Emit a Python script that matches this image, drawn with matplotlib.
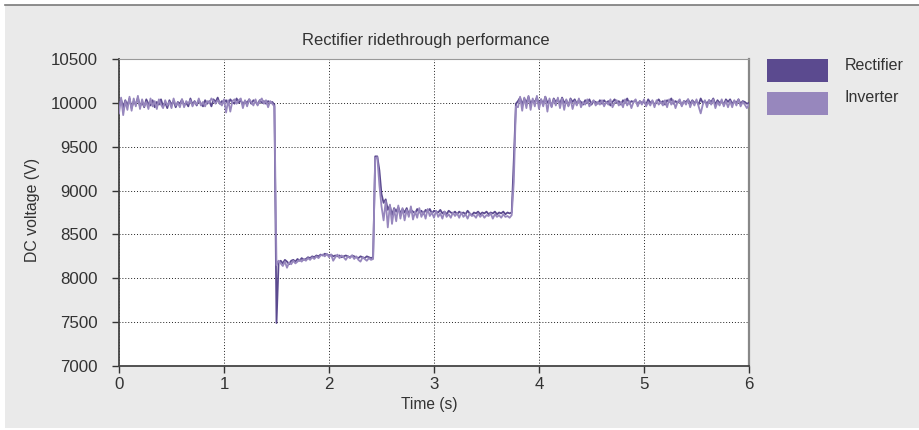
import numpy as np
import matplotlib.pyplot as plt
from matplotlib.patches import Rectangle
from matplotlib.lines import Line2D

plt.rcParams['font.family'] = ['Liberation Sans', 'DejaVu Sans']

# sample clock: 0.02 s steps from 0 to 6 s
time_s = np.linspace(0.0, 6.0, 301)

# ---- Rectifier DC voltage (V) ----
rect_pre = [9960, 10040, 9950, 10030, 9970, 10050, 9940, 10020, 9980, 10060,
            9960, 10010, 9950, 10040, 9990, 9970, 10030, 9950, 10010, 9980,
            10040, 9960, 10000, 9940, 10030, 9980, 10020, 9950, 10010, 9990,
            10040, 9970, 10000, 9960, 10050, 9980, 10020, 9970, 10030, 9990,
            9960, 10030, 9990, 10020, 9960, 10040, 10010, 10060, 9990, 10020,
            10000, 10030, 9980, 10040, 10010, 9990, 10050, 10000, 10030, 9980,
            10020, 10000, 10040, 9990, 10030, 10010, 9980, 10030, 10000, 10020,
            9990, 10020, 10000, 10010, 9980]
rect_fault = [7490, 8180,
              8200, 8170, 8210, 8190, 8160, 8200, 8210, 8190, 8220, 8200,
              8230, 8210, 8220, 8240, 8230, 8250, 8240, 8260, 8250, 8270,
              8260, 8280, 8270, 8260, 8270, 8250, 8260, 8250, 8260, 8240,
              8250, 8260, 8250, 8240, 8260, 8250, 8240, 8230, 8250, 8240,
              8230, 8250, 8240, 8230, 8240]
rect_step = [9390, 9390, 9230, 8960, 8860, 8900, 8780, 8830, 8720, 8800,
             8760, 8810, 8740, 8790, 8750, 8800, 8730, 8780, 8760, 8740,
             8790, 8750, 8770, 8730, 8780, 8760, 8790, 8740, 8770, 8760,
             8750, 8780, 8740, 8760, 8730, 8770, 8750, 8740, 8760, 8730,
             8760, 8740, 8750, 8730, 8770, 8740, 8720, 8750, 8740, 8760,
             8730, 8750, 8740, 8760, 8730, 8750, 8740, 8760, 8730, 8750,
             8740, 8760, 8730, 8750, 8740, 8750]
rect_post = [9350, 9990,
             10020, 10060, 9980, 10050, 10000, 10070, 9990, 10030, 10010, 10060,
             9980, 10040, 9980, 10070, 10000, 10030, 9960, 10050, 10010, 10040,
             9990, 10060, 10000, 10030, 9970, 10050, 10010, 10040, 9990, 10030,
             10010, 9980, 10030, 10000, 10040, 9980, 10020, 10010, 9990, 10030,
             9990, 10030, 10000, 10020, 9970, 10010, 10040, 10000, 10020, 9980,
             10030, 10000, 10050, 9990, 10020, 10010, 10030, 9980, 10020, 10000,
             10010, 9980, 10040, 10000, 10020, 9980, 10010, 10040, 10000, 10020,
             9980, 10030, 10010, 10050, 9990, 10020, 10000, 10030, 9970, 10020,
             10010, 10040, 9990, 10030, 10000, 10020, 9980, 10050, 10000, 10020,
             9990, 10030, 10010, 10050, 9980, 10030, 10000, 10020, 9980, 10040,
             10010, 10040, 9990, 10020, 10000, 10040, 9990, 10020, 10010, 9990, 10000]

# ---- Inverter DC voltage (V) ----
inv_pre = [9880, 10060, 9860, 10020, 9920, 10070, 9910, 10050, 9960, 10080,
           9930, 10040, 9960, 10010, 9930, 10050, 9960, 10020, 9930, 10040,
           9980, 9940, 10030, 9970, 10010, 9940, 10050, 9970, 10000, 9950,
           10040, 9950, 10020, 9990, 10030, 9960, 10010, 9980, 10050, 9970,
           10010, 9960, 10020, 10000, 10050, 10020, 9990, 10030, 10000, 9970,
           10040, 9890, 10030, 9900, 10020, 10040, 9990, 10030, 10050, 9940,
           10030, 9960, 10040, 10010, 9970, 10040, 9970, 10020, 10050, 9990,
           10030, 9950, 10020, 9990, 9960]
inv_fault = [8150, 8200,
             8170, 8140, 8190, 8120, 8180, 8160, 8200, 8170, 8190, 8210,
             8190, 8220, 8200, 8230, 8210, 8240, 8220, 8250, 8230, 8260,
             8270, 8250, 8280, 8240, 8270, 8200, 8240, 8270, 8230, 8260,
             8240, 8210, 8250, 8230, 8260, 8220, 8250, 8210, 8190, 8240,
             8220, 8200, 8230, 8210, 8220]
inv_step = [9370, 9380, 9060, 8820, 8660, 8880, 8580, 8840, 8620, 8790,
            8650, 8830, 8680, 8800, 8660, 8780, 8700, 8820, 8670, 8760,
            8690, 8800, 8700, 8760, 8680, 8790, 8710, 8750, 8690, 8770,
            8700, 8740, 8680, 8760, 8700, 8730, 8690, 8750, 8710, 8740,
            8690, 8750, 8700, 8730, 8680, 8740, 8710, 8720, 8690, 8740,
            8700, 8730, 8690, 8720, 8710, 8740, 8680, 8730, 8700, 8720,
            8690, 8730, 8700, 8710, 8690, 8720]
inv_post = [9100, 9960,
            9950, 10070, 9910, 10060, 9940, 10080, 9920, 10050, 9960, 10080,
            9930, 10040, 9960, 10070, 9900, 10050, 9950, 10040, 9970, 10060,
            9940, 10050, 9920, 10040, 9960, 10040, 9930, 10020, 9970, 10050,
            9950, 10010, 9980, 10040, 9960, 10000, 10030, 9970, 10010, 9980,
            10030, 9960, 10010, 9980, 10040, 9950, 10000, 10030, 9970, 10010,
            9950, 10040, 9970, 10020, 9940, 10010, 10040, 9960, 10020, 9980,
            10040, 9960, 10010, 9970, 10030, 9950, 10030, 9980, 10010, 9970,
            10030, 9950, 10040, 9980, 10030, 9940, 10010, 10040, 9960, 10020,
            9980, 10040, 9950, 10020, 9970, 10040, 9960, 9880, 9980, 10030,
            9950, 10030, 9980, 10040, 9940, 10010, 9970, 10040, 9960, 10020,
            9950, 10020, 9950, 10030, 9970, 10040, 9960, 10010, 9980, 9940, 9980]

rectifier = np.array(rect_pre + rect_fault + rect_step + rect_post)
inverter = np.array(inv_pre + inv_fault + inv_step + inv_post)

series_names = ['Rectifier', 'Inverter']
series_colors = ['#5b4a8f', '#9787bd']

x_ticks = [0, 1, 2, 3, 4, 5, 6]
y_ticks = [7000, 7500, 8000, 8500, 9000, 9500, 10000, 10500]

W, H = 919, 430
fig = plt.figure(figsize=(W / 100, H / 100), dpi=100, facecolor='white')

# grey panel + top rule
fig.add_artist(Rectangle((5 / W, 2 / H), 1 - 5 / W, 1 - 7 / H,
                         transform=fig.transFigure, facecolor='#eaeaea',
                         edgecolor='none', zorder=-10))
fig.add_artist(Line2D([5 / W, 1], [1 - 5 / H, 1 - 5 / H],
                      transform=fig.transFigure, color='#7a7a7a', lw=1.2))

ax = fig.add_axes([119 / W, 1 - 366 / H, 630 / W, 307 / H])
ax.set_facecolor('white')

ax.plot(time_s, rectifier, color=series_colors[0], lw=1.3, zorder=3)
ax.plot(time_s, inverter, color=series_colors[1], lw=1.3, zorder=4)

ax.set_xlim(0, 6)
ax.set_ylim(7000, 10500)
ax.set_xticks(x_ticks)
ax.set_yticks(y_ticks)

ax.grid(True, color='#222222', linestyle=(0, (1, 2)), linewidth=0.7)
ax.set_axisbelow(True)

for side in ['left', 'bottom']:
    ax.spines[side].set_color('#444444')
    ax.spines[side].set_linewidth(1.3)
ax.spines['top'].set_color('#999999')
ax.spines['top'].set_linewidth(0.8)
ax.spines['right'].set_color('#888888')
ax.spines['right'].set_linewidth(1.6)

ax.tick_params(axis='both', direction='out', length=5, width=1.0,
               color='#333333', labelcolor='#333333', labelsize=12.2)
ax.tick_params(axis='y', pad=10.5)
ax.tick_params(axis='x', pad=3)

fig.text(426 / W, 1 - 40 / H, 'Rectifier ridethrough performance',
         ha='center', va='center', fontsize=11.9, color='#333333')
fig.text(429 / W, 1 - 405 / H, 'Time (s)', ha='center', va='center',
         fontsize=11.2, color='#333333')
fig.text(33 / W, 1 - 210 / H, 'DC voltage (V)', ha='center', va='center',
         rotation=90, fontsize=11.4, color='#333333')

# legend
for k, (name, col) in enumerate(zip(series_names, series_colors)):
    top = 59 + k * 33
    fig.add_artist(Rectangle((767 / W, 1 - (top + 23) / H), 61 / W, 23 / H,
                             transform=fig.transFigure, facecolor=col,
                             edgecolor='none'))
    fig.text(845 / W, 1 - (top + 6) / H, name, ha='left', va='center',
             fontsize=11.5, color='#333333')

fig.savefig('out.png', dpi=100, facecolor=fig.get_facecolor())
